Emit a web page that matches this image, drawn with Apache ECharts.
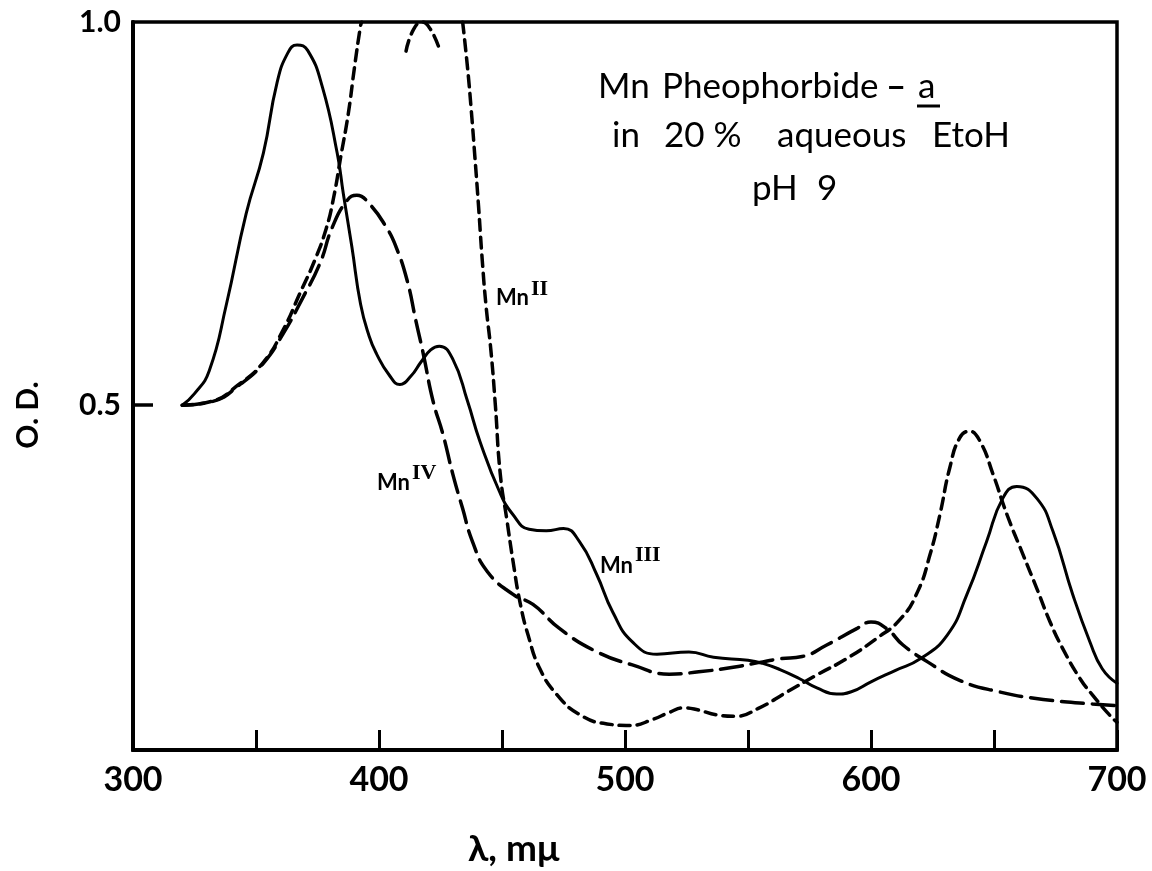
<!DOCTYPE html>
<html>
<head>
<meta charset="utf-8">
<script src="https://cdn.jsdelivr.net/npm/echarts@6/dist/echarts.min.js"></script>
<style>
html,body{margin:0;padding:0;background:#fff;}
#chart{width:1152px;height:871px;}
</style>
</head>
<body>
<div id="chart"></div>
<script>
// ---- data (wavelength in mμ, optical density) ----
const xTickLabels = [300, 400, 500, 600, 700];
const yTickLabels = [0.5, 1.0];

// Mn III (solid)
const mnIII = [[320,0.5],[325,0.515],[331,0.545],[338,0.632],[346,0.75],[353,0.829],[358.5,0.92],[363,0.96],[366.7,0.97],[371,0.963],[377,0.915],[383,0.829],[385.5,0.776],[389,0.706],[392.5,0.632],[396,0.59],[399,0.567],[404,0.54],[408.5,0.527],[413,0.538],[417,0.556],[421,0.572],[424.5,0.577],[430,0.56],[436,0.505],[441,0.453],[449,0.387],[454.5,0.357],[461,0.338],[468,0.336],[475,0.339],[481.5,0.322],[488.5,0.279],[495,0.23],[503,0.191],[513,0.175],[526,0.178],[536,0.171],[550,0.167],[556,0.163],[563,0.155],[571,0.143],[578,0.131],[586,0.123],[592,0.126],[600,0.139],[610,0.154],[620,0.169],[631,0.2],[639,0.253],[647,0.322],[653.5,0.378],[659.3,0.394],[667.5,0.378],[674,0.335],[682,0.253],[689,0.191],[694,0.156],[700,0.137]];

// Mn IV (long dashes)
const mnIV = [[320,0.5],[332.5,0.505],[343.5,0.527],[352.8,0.554],[361,0.593],[369,0.64],[376,0.685],[381,0.732],[387,0.767],[391,0.774],[396,0.763],[403,0.732],[407,0.706],[411.5,0.662],[415,0.61],[418,0.567],[422,0.505],[426,0.462],[430,0.41],[434,0.365],[438,0.322],[444,0.283],[454.5,0.253],[462.6,0.24],[473.6,0.208],[488.6,0.178],[503,0.161],[518,0.149],[530,0.152],[544,0.158],[556,0.165],[563,0.169],[572,0.172],[582,0.187],[594,0.208],[600,0.217],[606.5,0.208],[613,0.187],[623,0.165],[636,0.141],[652,0.126],[670,0.116],[690,0.110],[700,0.108]];

// Mn II (short dashes) – off scale between ~393 and ~434, '-' breaks the line
const mnII = [[320,0.5],[332,0.505],[343,0.527],[353,0.556],[361,0.598],[368,0.647],[374,0.69],[378.5,0.73],[381.5,0.77],[384.5,0.825],[387.5,0.88],[390,0.94],[392.5,0.995],[393,1.0],'-',[411,0.962],[414,0.99],[417.5,1.0],[421,0.99],[424.5,0.965],'-',[434,1.0],[436,0.94],[437.5,0.885],[439,0.823],[440.5,0.758],[442,0.688],[443.5,0.63],[445.5,0.571],[447.3,0.5],[449.3,0.41],[452,0.35],[454.5,0.296],[457.3,0.243],[460.6,0.2],[465.4,0.156],[472.4,0.122],[481.7,0.096],[492.7,0.084],[502,0.082],[511.4,0.090],[518,0.099],[524,0.105],[530,0.102],[537,0.096],[545,0.094],[554,0.104],[566,0.126],[578,0.148],[590,0.169],[602,0.195],[612,0.221],[619,0.257],[624,0.305],[628,0.357],[632,0.418],[636,0.457],[640,0.466],[644.3,0.453],[649.6,0.41],[655.3,0.357],[661.8,0.305],[667.5,0.26],[672.8,0.217],[678,0.182],[685,0.143],[690,0.122],[696,0.099],[700,0.086]];

const FONT = 'Lato, "DejaVu Sans", sans-serif';
const SERIF = '"Liberation Serif", serif';
const chart = echarts.init(document.getElementById('chart'), null, {renderer:'canvas'});

function lineSeries(name, data, type, width){
  return {
    name, type:'line', data, smooth:0.5, showSymbol:false, symbol:'none',
    connectNulls:false, clip:true,
    lineStyle:{color:'#000', width, type, cap:'round', join:'round'}
  };
}
function txt(text, x, y, font){
  return {type:'text', x, y, style:{text, font, fill:'#000', verticalAlign:'middle', align:'left'}};
}
const annot = '35px ' + FONT;
const lab = 'bold 22px ' + FONT;
const sup = 'bold 22px ' + SERIF;

const option = {
  backgroundColor:'#fff',
  animation:false,
  grid:{left:133, top:22, right:35, bottom:121, show:true, borderColor:'#000', borderWidth:3.5},
  xAxis:{
    type:'value', min:300, max:700, interval:50,
    axisLine:{show:true, lineStyle:{color:'#000', width:4}},
    axisTick:{show:true, inside:true, length:20, lineStyle:{color:'#000', width:3}},
    splitLine:{show:false},
    axisLabel:{
      margin:13, color:'#000', fontFamily:FONT, fontWeight:'bold', fontSize:34,
      formatter:v => xTickLabels.includes(v) ? String(v) : ''
    }
  },
  yAxis:{
    type:'value', min:0.05, max:1.0,
    axisLine:{show:true, lineStyle:{color:'#000', width:4}},
    axisTick:{show:true, inside:true, length:20, customValues:[0.5], lineStyle:{color:'#000', width:3.5}},
    splitLine:{show:false},
    axisLabel:{
      margin:12, color:'#000', fontFamily:FONT, fontWeight:'bold', fontSize:30,
      customValues:yTickLabels,
      formatter:v => v.toFixed(1)
    }
  },
  series:[
    lineSeries('Mn III', mnIII, 'solid', 3),
    lineSeries('Mn IV', mnIV, [22,9], 3.5),
    lineSeries('Mn II', mnII, [11,7], 3.5)
  ],
  graphic:[
    txt('Mn', 598, 87, annot),
    txt('Pheophorbide', 662, 87, annot),
    txt('–', 886, 87, 'bold 35px ' + FONT),
    txt('a', 918, 87, annot),
    {type:'line', shape:{x1:917, y1:106, x2:940, y2:106}, style:{stroke:'#000', lineWidth:3}},
    txt('in', 612, 136, annot),
    txt('20 %', 664, 136, annot),
    txt('aqueous', 777, 136, annot),
    txt('EtoH', 932, 136, annot),
    txt('pH', 752, 189, annot),
    txt('9', 817, 189, annot),
    txt('Mn', 496, 298, lab),
    txt('II', 531, 289, sup),
    txt('Mn', 377, 483, lab),
    txt('IV', 412, 473, sup),
    txt('Mn', 600, 566, lab),
    txt('III', 635, 555, sup),
    txt('λ, mμ', 468, 849, 'bold 37px ' + FONT),
    {type:'text', x:28, y:415, rotation:Math.PI/2, style:{text:'O. D.', font:'bold 30px '+FONT, fill:'#000', align:'center', verticalAlign:'middle'}}
  ]
};
chart.setOption(option);
</script>
</body>
</html>
